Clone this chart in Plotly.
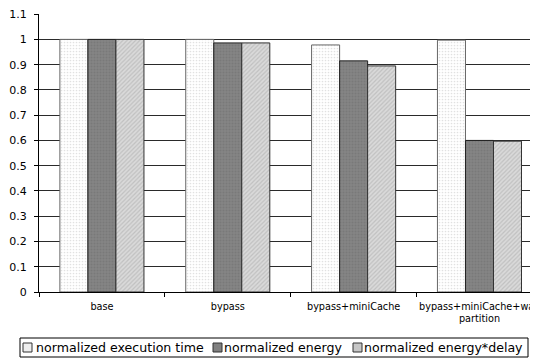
import plotly.graph_objects as go

categories = ["base", "bypass", "bypass+miniCache", "bypass+miniCache+way partition"]
tick_labels = ["base", "bypass", "bypass+miniCache", "bypass+miniCache+way<br>partition"]
series_names = ["normalized execution time", "normalized energy", "normalized energy*delay"]
exec_time = [1.0, 1.0, 0.978, 0.997]
energy = [1.0, 0.986, 0.915, 0.600]
energy_delay = [1.0, 0.986, 0.895, 0.597]
y_ticks = [0, 0.1, 0.2, 0.3, 0.4, 0.5, 0.6, 0.7, 0.8, 0.9, 1, 1.1]
y_tick_labels = ["0", "0.1", "0.2", "0.3", "0.4", "0.5", "0.6", "0.7", "0.8", "0.9", "1", "1.1"]

FONT = "DejaVu Sans"
OFF = 8  # page body margin
W, H = 530, 355
L, R, T, B = 31, 0, 6, 71
PW, PH = W - L - R, H - T - B

styles = [
    dict(bg="#ffffff", fg="#c4c4c4", shape=".", size=3, sol=0.25, line="#666666", swatch="#eeeeee"),
    dict(bg="#858585", fg="#6e6e6e", shape=".", size=3, sol=0.4, line="#222222", swatch="#808080"),
    dict(bg="#dadada", fg="#a6a6a6", shape="/", size=3, sol=0.4, line="#333333", swatch="#c6c6c6"),
]

fig = go.Figure()
for name, vals, st in zip(series_names, [exec_time, energy, energy_delay], styles):
    fig.add_trace(go.Bar(
        x=categories, y=vals, name=name,
        marker=dict(color=st["bg"],
                    line=dict(color=st["line"], width=1),
                    pattern=dict(shape=st["shape"], fgcolor=st["fg"], bgcolor=st["bg"],
                                 size=st["size"], solidity=st["sol"])),
    ))

def px_x(p):
    return (p - OFF - L) / PW

def px_y(p):
    return (H - B - (p - OFF)) / PH

shapes = []
annotations = []
# legend frame
shapes.append(dict(type="rect", xref="paper", yref="paper",
                   x0=px_x(20), x1=px_x(528), y0=px_y(357), y1=px_y(338),
                   line=dict(color="#000000", width=1), fillcolor="white", layer="above"))
box_x = [23, 213, 353]
text_x = [34, 222, 362]
for i, (name, st) in enumerate(zip(series_names, styles)):
    shapes.append(dict(type="rect", xref="paper", yref="paper",
                       x0=px_x(box_x[i]), x1=px_x(box_x[i] + 9),
                       y0=px_y(352), y1=px_y(343),
                       line=dict(color="#333333", width=1), fillcolor=st["swatch"], layer="above"))
    annotations.append(dict(text=name, xref="paper", yref="paper",
                            x=px_x(text_x[i]), y=px_y(347.5), xanchor="left", yanchor="middle",
                            showarrow=False, font=dict(family=FONT, size=12.6, color="#000000")))

fig.update_layout(
    width=W, height=H, autosize=False,
    margin=dict(l=L, r=R, t=T, b=B, pad=0, autoexpand=False),
    paper_bgcolor="white", plot_bgcolor="white",
    barmode="group", bargap=0.332, bargroupgap=0,
    showlegend=False,
    font=dict(family=FONT, color="#000000"),
    shapes=shapes, annotations=annotations,
    xaxis=dict(type="category", range=[-0.5, 3.465], automargin=False, tickangle=0,
               tickmode="array", tickvals=categories, ticktext=tick_labels,
               ticks="outside", tickson="boundaries", ticklen=4, tickcolor="#000000",
               ticklabelstandoff=5, ticklabeloverflow="allow",
               showline=True, linecolor="#000000", linewidth=1,
               showgrid=False, tickfont=dict(family=FONT, size=9.7), fixedrange=True),
    yaxis=dict(range=[0, 1.1005], tickmode="array", tickvals=y_ticks, ticktext=y_tick_labels,
               automargin=False,
               ticks="outside", ticklen=4, tickcolor="#000000",
               ticklabelstandoff=5, ticklabeloverflow="allow",
               showline=True, linecolor="#000000", linewidth=1,
               showgrid=True, gridcolor="#2a2a2a", gridwidth=1, zeroline=False,
               tickfont=dict(family=FONT, size=11), fixedrange=True),
)

fig.write_html("out.html")
